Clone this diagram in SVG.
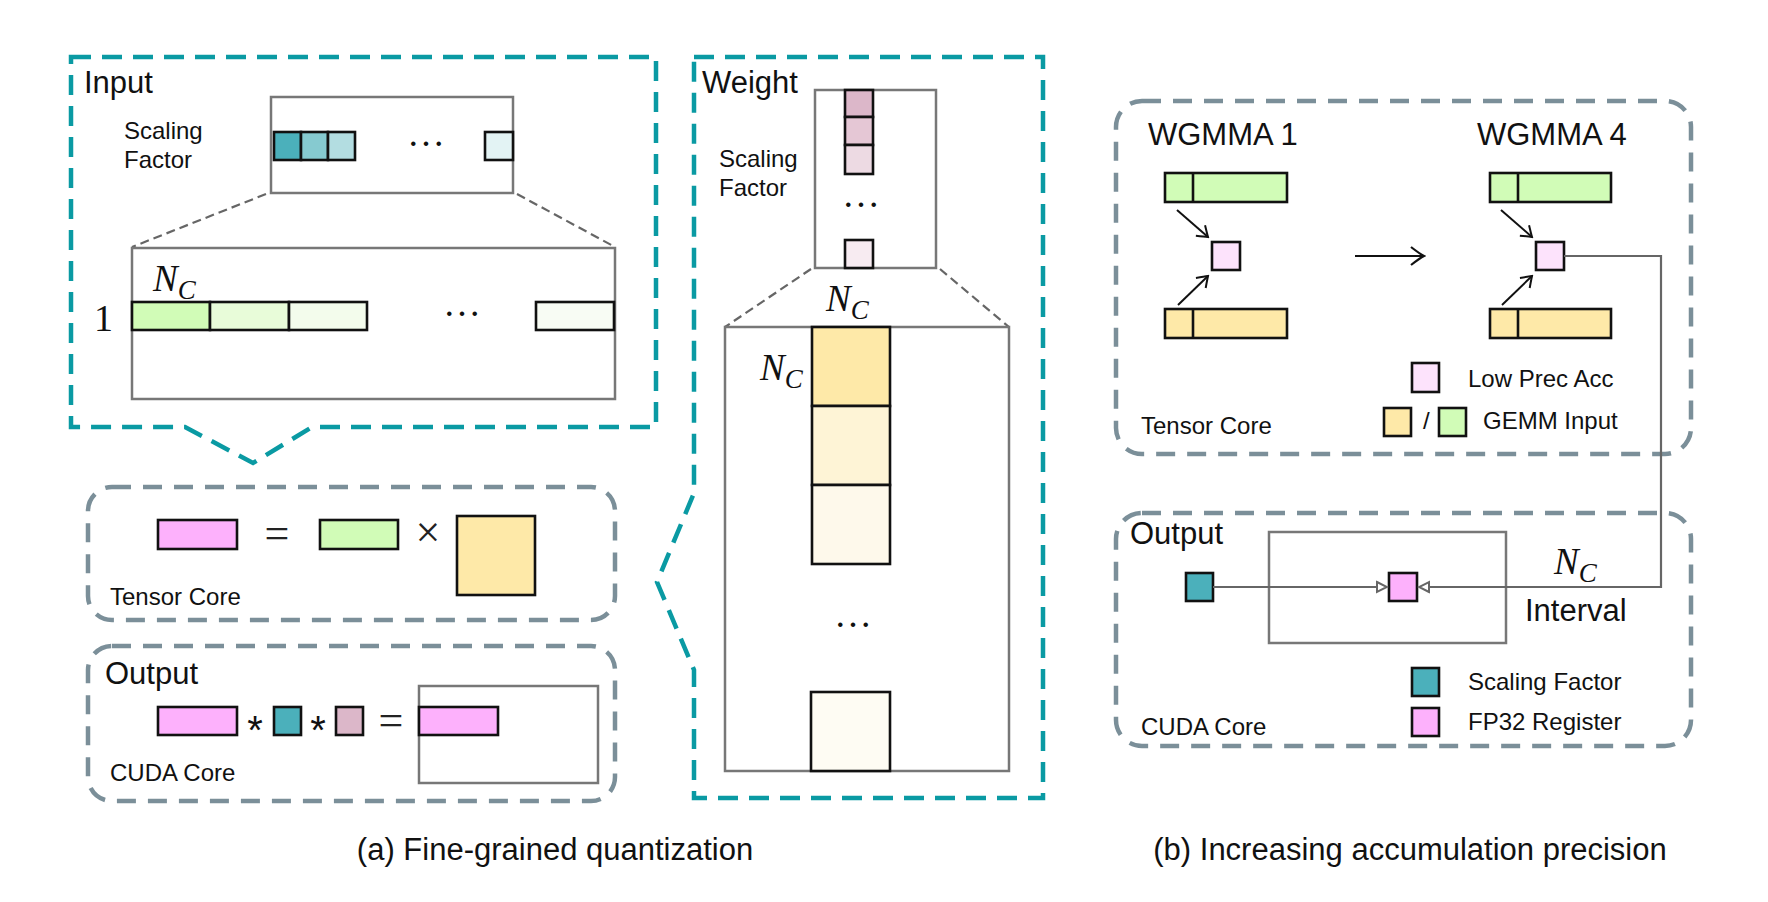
<svg xmlns="http://www.w3.org/2000/svg" width="1768" height="902" viewBox="0 0 1768 902">
<style>
.teal{fill:none;stroke:#0a9aa3;stroke-width:4.5;stroke-dasharray:20 11}
.grayd{fill:none;stroke:#7b8f99;stroke-width:4.5;stroke-dasharray:19 12}
.frame{fill:#fff;stroke:#777;stroke-width:2.5}
.zoomline{fill:none;stroke:#666;stroke-width:2.2;stroke-dasharray:9 5}
.cell{stroke:#111;stroke-width:2.6}
.title{font-family:"Liberation Sans",Arial,sans-serif;font-size:31px;fill:#111}
.lab{font-family:"Liberation Sans",Arial,sans-serif;font-size:24px;fill:#111}
.cap{font-family:"Liberation Sans",Arial,sans-serif;font-size:31px;fill:#111}
.math{font-family:"Liberation Serif","Times New Roman",serif;font-style:italic;font-size:37px;fill:#111}
.sym{font-family:"Liberation Serif","Times New Roman",serif;font-size:44px;fill:#222}
.ast{font-family:"Liberation Sans",Arial,sans-serif;font-size:40px;fill:#111}
.dots{font-family:"Liberation Serif",serif;font-size:38px;fill:#111}
.conn{fill:none;stroke:#111;stroke-width:2}
.wire{fill:none;stroke:#666;stroke-width:2.2}
</style>
<defs>
<marker id="vhead" viewBox="-12 -8 14 16" markerWidth="14" markerHeight="16" refX="0" refY="0" orient="auto" markerUnits="userSpaceOnUse">
<path d="M -10 -7 Q -3 -2 0 0 Q -3 2 -10 7" fill="none" stroke="#111" stroke-width="2"/>
</marker>
<marker id="vbig" viewBox="-16 -10 18 20" markerWidth="18" markerHeight="20" refX="0" refY="0" orient="auto" markerUnits="userSpaceOnUse">
<path d="M -13 -9 Q -4 -2 0 0 Q -4 2 -13 9" fill="none" stroke="#111" stroke-width="2.2"/>
</marker>
<marker id="tri" viewBox="-12 -7 14 14" markerWidth="14" markerHeight="14" refX="0" refY="0" orient="auto" markerUnits="userSpaceOnUse">
<path d="M -10 -5 L 0 0 L -10 5 Z" fill="#fff" stroke="#666" stroke-width="2"/>
</marker>
</defs>

<!-- (a) Input -->
<g id="input-panel">
<path class="teal" d="M 71 57 H 656 V 427 H 312 L 253 463 L 185 427 H 71 Z"/>
<text class="title" x="84" y="93">Input</text>
<text class="lab" x="124" y="139">Scaling</text>
<text class="lab" x="124" y="168">Factor</text>
<rect class="frame" x="271" y="97" width="242" height="96"/>
<rect class="cell" x="274" y="132" width="27" height="28" fill="#4bb0bb"/>
<rect class="cell" x="301" y="132" width="27" height="28" fill="#86cad0"/>
<rect class="cell" x="328" y="132" width="27" height="28" fill="#b3dde1"/>
<text class="dots" x="407" y="146">…</text>
<rect class="cell" x="485" y="132" width="28" height="28" fill="#e3f3f4"/>
<line class="zoomline" x1="266" y1="194" x2="132" y2="247"/>
<line class="zoomline" x1="517" y1="194" x2="615" y2="247"/>
<rect class="frame" x="132" y="248" width="483" height="151"/>
<text class="math" x="153" y="291">N<tspan font-size="27" dy="8">C</tspan></text>
<text x="94" y="331" font-family="Liberation Serif,serif" font-size="38" fill="#111">1</text>
<rect class="cell" x="132" y="302" width="78" height="28" fill="#d1fcb7"/>
<rect class="cell" x="210" y="302" width="79" height="28" fill="#e8fcd9"/>
<rect class="cell" x="289" y="302" width="78" height="28" fill="#f3fcec"/>
<text class="dots" x="443" y="316">…</text>
<rect class="cell" x="536" y="302" width="78" height="28" fill="#f8fcf4"/>
</g>

<!-- (a) Tensor Core -->
<g id="tensor-core-a">
<rect class="grayd" x="88" y="487" width="527" height="133" rx="24"/>
<rect class="cell" x="158" y="520" width="79" height="29" fill="#fdb1fc"/>
<text class="sym" x="277" y="548" text-anchor="middle">=</text>
<rect class="cell" x="320" y="520" width="78" height="29" fill="#d1fcb7"/>
<text class="sym" x="428" y="547" text-anchor="middle">×</text>
<rect class="cell" x="457" y="516" width="78" height="79" fill="#fee9a8"/>
<text class="lab" x="110" y="605">Tensor Core</text>
</g>

<!-- (a) Output -->
<g id="output-a">
<rect class="grayd" x="88" y="646" width="527" height="155" rx="24"/>
<text class="title" x="105" y="684">Output</text>
<rect class="cell" x="158" y="707" width="79" height="28" fill="#fdb1fc"/>
<text class="ast" x="255" y="744" text-anchor="middle">*</text>
<rect class="cell" x="274" y="707" width="27" height="28" fill="#4bb0bb"/>
<text class="ast" x="318" y="744" text-anchor="middle">*</text>
<rect class="cell" x="336" y="707" width="27" height="28" fill="#dcb7c9"/>
<text class="sym" x="391" y="735" text-anchor="middle">=</text>
<rect class="frame" x="419" y="686" width="179" height="97"/>
<rect class="cell" x="419" y="707" width="79" height="28" fill="#fdb1fc"/>
<text class="lab" x="110" y="781">CUDA Core</text>
</g>

<!-- (a) Weight -->
<g id="weight-panel">
<path class="teal" d="M 694 57 H 1043 V 798 H 694 V 670 L 657 582 L 694 493 Z"/>
<text class="title" x="702" y="93">Weight</text>
<text class="lab" x="719" y="167">Scaling</text>
<text class="lab" x="719" y="196">Factor</text>
<rect class="frame" x="815" y="90" width="121" height="178"/>
<rect class="cell" x="845" y="90" width="28" height="27" fill="#dcb7c9"/>
<rect class="cell" x="845" y="117" width="28" height="28" fill="#e5c7d5"/>
<rect class="cell" x="845" y="145" width="28" height="29" fill="#eddae3"/>
<text class="dots" x="842" y="207">…</text>
<rect class="cell" x="845" y="240" width="28" height="28" fill="#f7ebf1"/>
<line class="zoomline" x1="811" y1="269" x2="725" y2="327"/>
<line class="zoomline" x1="940" y1="269" x2="1009" y2="327"/>
<rect class="frame" x="725" y="327" width="284" height="444"/>
<text class="math" x="826" y="311">N<tspan font-size="27" dy="8">C</tspan></text>
<text class="math" x="760" y="380">N<tspan font-size="27" dy="8">C</tspan></text>
<rect class="cell" x="812" y="327" width="78" height="79" fill="#fee9a8"/>
<rect class="cell" x="812" y="406" width="78" height="79" fill="#fef4d6"/>
<rect class="cell" x="812" y="485" width="78" height="79" fill="#fef9eb"/>
<text class="dots" x="834" y="627">…</text>
<rect class="cell" x="811" y="692" width="79" height="79" fill="#fefcf3"/>
</g>

<!-- (b) Tensor Core -->
<g id="tensor-core-b">
<rect class="grayd" x="1116" y="101" width="575" height="353" rx="26"/>
<text class="title" x="1148" y="145">WGMMA 1</text>
<text class="title" x="1477" y="145">WGMMA 4</text>
<rect class="cell" x="1165" y="173" width="122" height="29" fill="#d1fcb7"/>
<line class="cell" x1="1193" y1="173" x2="1193" y2="202"/>
<rect class="cell" x="1165" y="309" width="122" height="29" fill="#fee9a8"/>
<line class="cell" x1="1193" y1="309" x2="1193" y2="338"/>
<rect class="cell" x="1212" y="242" width="28" height="28" fill="#fde3fc"/>
<rect class="cell" x="1490" y="173" width="121" height="29" fill="#d1fcb7"/>
<line class="cell" x1="1518" y1="173" x2="1518" y2="202"/>
<rect class="cell" x="1490" y="309" width="121" height="29" fill="#fee9a8"/>
<line class="cell" x1="1518" y1="309" x2="1518" y2="338"/>
<rect class="cell" x="1536" y="242" width="28" height="28" fill="#fde3fc"/>
<rect class="cell" x="1412" y="363" width="27" height="29" fill="#fde3fc"/>
<text class="lab" x="1468" y="387">Low Prec Acc</text>
<rect class="cell" x="1384" y="408" width="27" height="28" fill="#fee9a8"/>
<text class="lab" x="1423" y="429">/</text>
<rect class="cell" x="1439" y="408" width="27" height="28" fill="#d1fcb7"/>
<text class="lab" x="1483" y="429">GEMM Input</text>
<text class="lab" x="1141" y="434">Tensor Core</text>
</g>

<!-- (b) CUDA Core -->
<g id="cuda-core-b">
<rect class="grayd" x="1116" y="513" width="575" height="233" rx="26"/>
<text class="title" x="1130" y="544">Output</text>
<rect class="frame" x="1269" y="532" width="237" height="111" fill="none"/>
<rect class="cell" x="1186" y="573" width="27" height="28" fill="#4bb0bb"/>
<rect class="cell" x="1389" y="573" width="28" height="28" fill="#fdb1fc"/>
<text class="math" x="1554" y="574">N<tspan font-size="27" dy="8">C</tspan></text>
<text class="title" x="1525" y="621">Interval</text>
<rect class="cell" x="1412" y="668" width="27" height="28" fill="#4bb0bb"/>
<text class="lab" x="1468" y="690">Scaling Factor</text>
<rect class="cell" x="1412" y="708" width="27" height="28" fill="#fdb1fc"/>
<text class="lab" x="1468" y="730">FP32 Register</text>
<text class="lab" x="1141" y="735">CUDA Core</text>
</g>

<!-- connectors -->
<g id="connectors">
<line class="conn" x1="1177" y1="210" x2="1208" y2="237" marker-end="url(#vhead)"/>
<line class="conn" x1="1178" y1="305" x2="1208" y2="276" marker-end="url(#vhead)"/>
<line class="conn" x1="1501" y1="210" x2="1532" y2="237" marker-end="url(#vhead)"/>
<line class="conn" x1="1502" y1="305" x2="1532" y2="276" marker-end="url(#vhead)"/>
<line class="conn" x1="1355" y1="256" x2="1424" y2="256" marker-end="url(#vbig)"/>
<path class="wire" d="M 1564 256 H 1661 V 587 H 1419" marker-end="url(#tri)"/>
<line class="wire" x1="1213" y1="587" x2="1387" y2="587" marker-end="url(#tri)"/>
</g>

<!-- captions -->
<text class="cap" x="555" y="860" text-anchor="middle">(a) Fine-grained quantization</text>
<text class="cap" x="1410" y="860" text-anchor="middle">(b) Increasing accumulation precision</text>
</svg>
